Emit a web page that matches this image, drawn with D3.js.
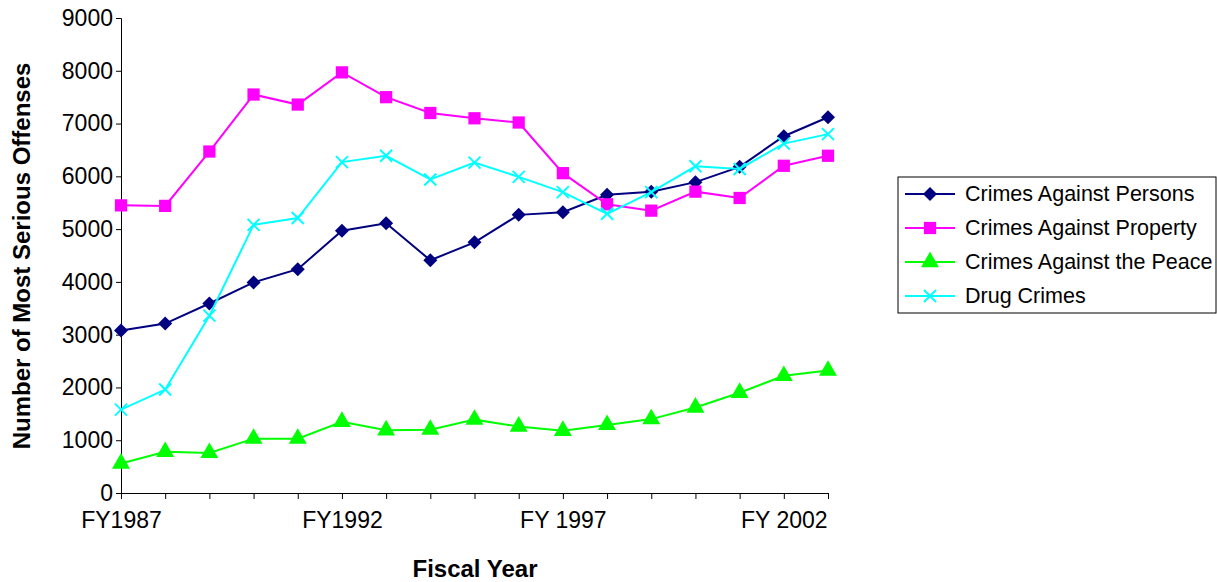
<!DOCTYPE html>
<html>
<head>
<meta charset="utf-8" />
<style>
body{margin:0;background:#fff;}
text{font-family:"Liberation Sans",Arial,sans-serif;}
</style>
</head>
<body>
<svg id="chart" width="1217" height="582"></svg>
<script src="https://cdn.jsdelivr.net/npm/d3@7"></script>
<script>
var years = d3.range(1987, 2004);
var tickLabels = {1987: 'FY1987', 1992: 'FY1992', 1997: 'FY 1997', 2002: 'FY 2002'};
var persons = [3080,3210,3590,3990,4240,4970,5110,4410,4750,5270,5320,5650,5710,5890,6180,6760,7120];
var property = [5450,5440,6470,7550,7360,7970,7500,7200,7100,7020,6060,5470,5350,5710,5590,6200,6390];
var peace = [560,780,760,1030,1030,1350,1190,1200,1390,1260,1180,1290,1400,1620,1900,2220,2320];
var drug = [1580,1960,3360,5080,5210,6270,6390,5940,6260,5990,5700,5290,5700,6190,6140,6620,6800];

var series = [
  {name: 'Crimes Against Persons', values: persons, color: '#000080', shape: 'diamond'},
  {name: 'Crimes Against Property', values: property, color: '#ff00ff', shape: 'square'},
  {name: 'Crimes Against the Peace', values: peace, color: '#00ff00', shape: 'triangle'},
  {name: 'Drug Crimes', values: drug, color: '#00ffff', shape: 'x'}
];

var svg = d3.select('#chart');
var x = d3.scaleLinear().domain([1987, 2003]).range([121, 828]);
var y = d3.scaleLinear().domain([0, 9000]).range([493, 18]);

svg.append('g').attr('transform', 'translate(121,0)')
  .call(d3.axisLeft(y).tickValues(d3.range(0, 9001, 1000)).tickSize(5).tickFormat(d3.format('d')))
  .call(function(g){ g.selectAll('text').style('font-size', '23px').attr('fill', '#000').attr('x', -8); g.select('.domain').attr('stroke', '#000'); });

svg.append('g').attr('transform', 'translate(0,493)')
  .call(d3.axisBottom(x).tickValues(years).tickSize(6).tickFormat(function(d){ return tickLabels[d] || ''; }))
  .call(function(g){ g.selectAll('text').style('font-size', '23px').attr('fill', '#000').attr('y', 19); g.select('.domain').attr('stroke', '#000'); });

svg.append('text').attr('x', 475).attr('y', 577).attr('text-anchor', 'middle')
  .style('font-size', '24px').style('font-weight', 'bold').text('Fiscal Year');
svg.append('text').attr('transform', 'translate(30,256) rotate(-90)').attr('text-anchor', 'middle')
  .style('font-size', '24px').style('font-weight', 'bold').text('Number of Most Serious Offenses');

function marker(g, shape, color){
  if (shape === 'x') {
    g.append('path').attr('d', 'M-6,-6L6,6M-6,6L6,-6').attr('stroke', color).attr('stroke-width', 2);
  } else if (shape === 'diamond') {
    g.append('path').attr('d', 'M0,-7L7,0L0,7L-7,0Z').attr('fill', color);
  } else {
    var sym = {square: d3.symbolSquare, triangle: d3.symbolTriangle}[shape];
    var size = {square: 150, triangle: 140}[shape];
    g.append('path').attr('d', d3.symbol().type(sym).size(size)()).attr('fill', color);
  }
}

var line = d3.line().x(function(d, i){ return x(years[i]); }).y(function(d){ return y(d); });
series.forEach(function(s){
  svg.append('path').attr('d', line(s.values)).attr('fill', 'none').attr('stroke', s.color).attr('stroke-width', 2);
  s.values.forEach(function(v, i){
    marker(svg.append('g').attr('transform', 'translate(' + x(years[i]) + ',' + y(v) + ')'), s.shape, s.color);
  });
});

var legend = svg.append('g');
legend.append('rect').attr('x', 898).attr('y', 177).attr('width', 318).attr('height', 136)
  .attr('fill', '#fff').attr('stroke', '#000');
series.forEach(function(s, i){
  var ly = 194 + i * 34;
  legend.append('line').attr('x1', 905).attr('x2', 955).attr('y1', ly).attr('y2', ly).attr('stroke', s.color).attr('stroke-width', 2);
  marker(legend.append('g').attr('transform', 'translate(930,' + ly + ')'), s.shape, s.color);
  legend.append('text').attr('x', 965).attr('y', ly + 7).style('font-size', '21.5px').text(s.name);
});
</script>
</body>
</html>
